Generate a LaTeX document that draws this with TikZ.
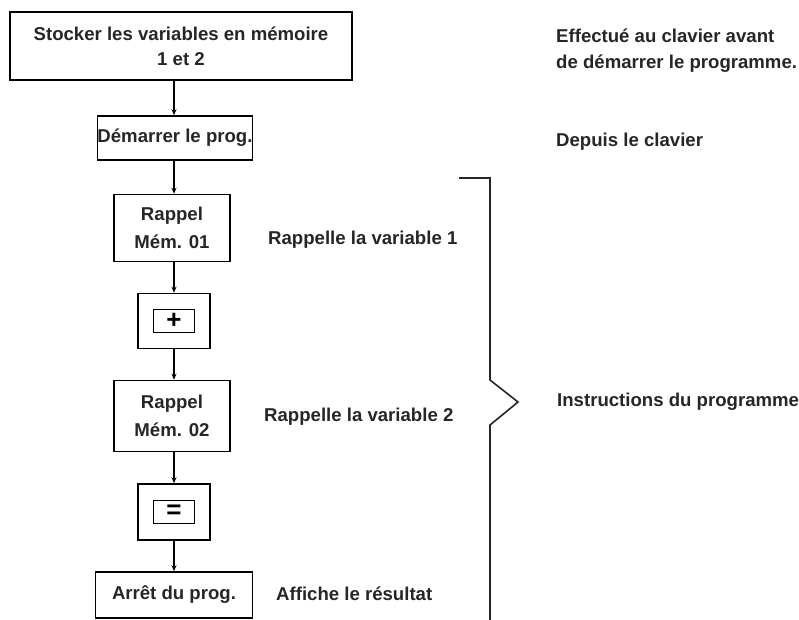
\documentclass[tikz,border=0pt]{standalone}
\usepackage{fontspec}
\setmainfont{Liberation Sans}
\usetikzlibrary{arrows.meta}
\begin{document}
\begin{tikzpicture}[x=1pt,y=-1pt,
  font=\bfseries\fontsize{18.6}{25}\selectfont,
  every node/.style={inner sep=0pt},
  box/.style={draw, line width=1.6pt, align=center, text=black!85},
  key/.style={draw, line width=1.5pt, minimum width=41pt, minimum height=23pt, font=\bfseries\fontsize{26}{26}\selectfont},
  lbl/.style={anchor=west, align=left, text=black!85},
  arr/.style={line width=1.5pt, -{Stealth[length=6pt,width=5pt]}}]
\useasboundingbox (0,0) rectangle (799,619);
\node[box, minimum width=342pt, minimum height=68pt] (b1) at (181,46) {Stocker les variables en mémoire\\1 et 2};
\node[box, minimum width=154pt, minimum height=44pt] (b2) at (175,138) {Démarrer le prog.};
\node[box, minimum width=116pt, minimum height=67pt, font=\bfseries\fontsize{18.6}{28}\selectfont] (b3) at (172,228) {Rappel\\Mém. 01};
\node[box, minimum width=72pt, minimum height=55pt] (b4) at (174,321) {};
\node[key] (k4) at (b4.center) {+};
\node[box, minimum width=116pt, minimum height=71pt, font=\bfseries\fontsize{18.6}{28}\selectfont] (b5) at (172,416) {Rappel\\Mém. 02};
\node[box, minimum width=72pt, minimum height=56pt] (b6) at (174,512) {};
\node[key] (k6) at (b6.center) {=};
\node[box, minimum width=157pt, minimum height=46pt] (b7) at (174,595) {Arrêt du prog.};

\draw[arr] (b1.south -| 174,0) -- (b2.north -| 174,0);
\draw[arr] (b2.south -| 174,0) -- (b3.north -| 174,0);
\draw[arr] (b3.south -| 174,0) -- (b4.north -| 174,0);
\draw[arr] (b4.south -| 174,0) -- (b5.north -| 174,0);
\draw[arr] (b5.south -| 174,0) -- (b6.north -| 174,0);
\draw[arr] (b6.south -| 174,0) -- (b7.north -| 174,0);

\node[lbl] (t1) at (268,240) {Rappelle la variable 1};
\node[lbl] (t2) at (264,417) {Rappelle la variable 2};
\node[lbl] (t3) at (276,594) {Affiche le résultat};
\node[lbl, font=\bfseries\fontsize{18.6}{26}\selectfont] (t4) at (556,51) {Effectué au clavier avant\\de démarrer le programme.};
\node[lbl] (t5) at (556,142) {Depuis le clavier};
\node[lbl] (t6) at (557,402) {Instructions du programme};

\draw[line width=1.6pt, black!85] (459,178) -- (490,178) -- (490,380) -- (518,402) -- (490,425) -- (490,620);
\end{tikzpicture}
\end{document}
